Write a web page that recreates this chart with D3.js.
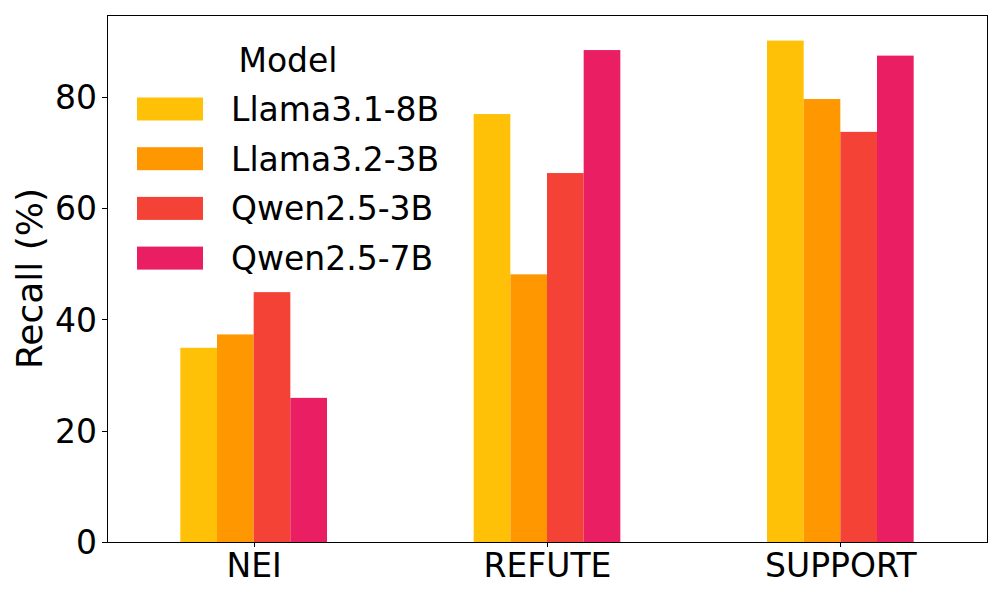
<!DOCTYPE html>
<html>
<head>
<meta charset="utf-8">
<script src="https://cdn.jsdelivr.net/npm/d3@7"></script>
<style>
  body { margin: 0; background: #fff; }
  svg text { font-family: "DejaVu Sans", sans-serif; fill: #000; }
</style>
</head>
<body>
<svg id="chart" width="1000" height="600"></svg>
<script>
const categories = ["NEI", "REFUTE", "SUPPORT"];
const models = ["Llama3.1-8B", "Llama3.2-3B", "Qwen2.5-3B", "Qwen2.5-7B"];
const llama31_8b = [34.9, 76.9, 90.1];
const llama32_3b = [37.3, 48.1, 79.6];
const qwen25_3b = [44.9, 66.3, 73.7];
const qwen25_7b = [25.9, 88.4, 87.4];
const yTicks = [0, 20, 40, 60, 80];
const colors = ["#FFC107", "#FF9800", "#F44336", "#E91E63"];

const seriesValues = [llama31_8b, llama32_3b, qwen25_3b, qwen25_7b];

const margin = {left: 107, right: 13, top: 15, bottom: 58};
const W = 1000, H = 600;

const svg = d3.select("#chart");

// pandas-style positions: category i at x=i, xlim -0.5..2.5
const x = d3.scaleLinear()
    .domain([-0.5, categories.length - 0.5])
    .range([margin.left, W - margin.right]);
const y = d3.scaleLinear()
    .domain([0, 94.7])
    .range([H - margin.bottom, margin.top]);

const barW = 0.5 / models.length;

// bars
models.forEach((m, j) => {
    svg.append("g")
        .selectAll("rect")
        .data(seriesValues[j])
        .enter()
        .append("rect")
        .attr("x", (d, i) => x(i - 0.25 + j * barW))
        .attr("width", x(barW) - x(0))
        .attr("y", d => y(d))
        .attr("height", d => y(0) - y(d))
        .attr("fill", colors[j]);
});

// axes
const xAxis = d3.axisBottom(x)
    .tickValues(d3.range(categories.length))
    .tickFormat(i => categories[i])
    .tickSize(5).tickPadding(5);
const gx = svg.append("g")
    .attr("transform", `translate(0,${H - margin.bottom})`)
    .call(xAxis);
gx.select(".domain").remove();
gx.selectAll("text").attr("font-size", 33).attr("dy", "0.76em");
gx.selectAll("line").attr("stroke", "#000").attr("shape-rendering", "crispEdges");

const yAxis = d3.axisLeft(y)
    .tickValues(yTicks)
    .tickSize(5).tickPadding(5);
const gy = svg.append("g")
    .attr("transform", `translate(${margin.left},0)`)
    .call(yAxis);
gy.select(".domain").remove();
gy.selectAll("text").attr("font-size", 33).attr("dy", "0.36em");
gy.selectAll("line").attr("stroke", "#000").attr("shape-rendering", "crispEdges");

// frame
svg.append("rect")
    .attr("x", margin.left + 0.5).attr("y", margin.top + 0.5)
    .attr("width", W - margin.left - margin.right)
    .attr("height", H - margin.top - margin.bottom)
    .attr("fill", "none").attr("stroke", "#000").attr("stroke-width", 1)
    .attr("shape-rendering", "crispEdges");

// y label
svg.append("text")
    .attr("transform", `translate(42,${(margin.top + H - margin.bottom) / 2}) rotate(-90)`)
    .attr("text-anchor", "middle")
    .attr("font-size", 36)
    .text("Recall (%)");

// legend
const leg = svg.append("g");
leg.append("text")
    .attr("x", 288).attr("y", 72)
    .attr("text-anchor", "middle")
    .attr("font-size", 33)
    .text("Model");
models.forEach((m, j) => {
    const cy = 109 + j * 49.7;
    leg.append("rect")
        .attr("x", 137).attr("y", cy - 11.5)
        .attr("width", 66).attr("height", 23)
        .attr("fill", colors[j]);
    leg.append("text")
        .attr("x", 231).attr("y", cy)
        .attr("dy", "0.36em")
        .attr("font-size", 33)
        .text(m);
});
</script>
</body>
</html>
